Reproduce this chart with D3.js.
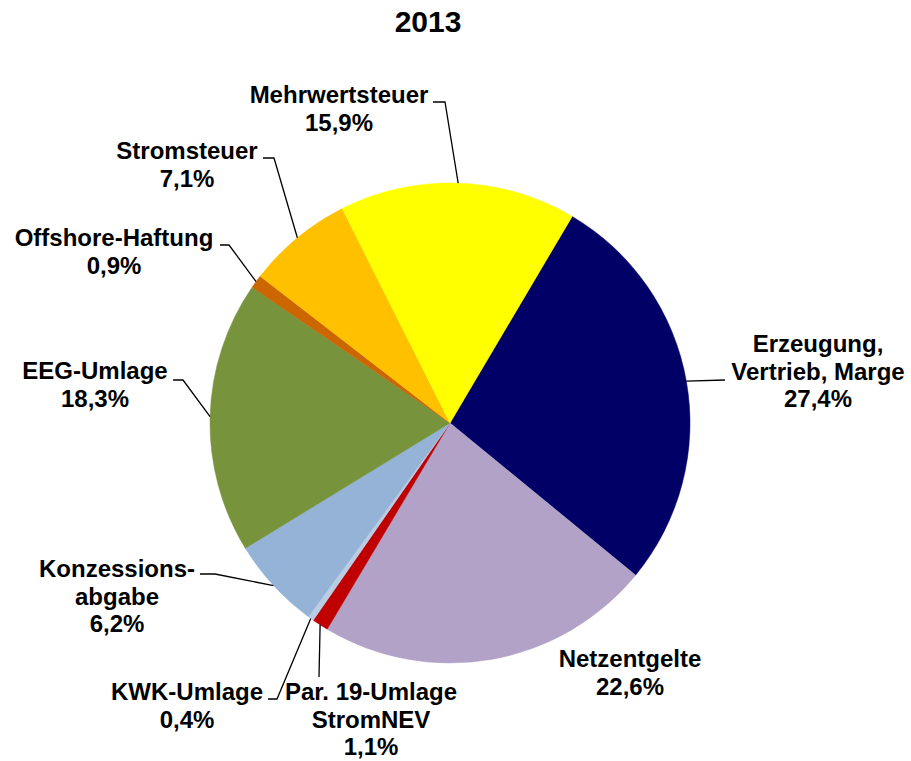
<!DOCTYPE html>
<html>
<head>
<meta charset="utf-8">
<script src="https://cdn.jsdelivr.net/npm/d3@7"></script>
<style>
  body { margin: 0; background: #fff; }
  text { font-family: "Liberation Sans", Arial, sans-serif; font-weight: bold; fill: #000; }
</style>
</head>
<body>
<svg width="911" height="761"></svg>
<script>
// data, clockwise starting at "Erzeugung"
var categories = ["Erzeugung, Vertrieb, Marge", "Netzentgelte", "Par. 19-Umlage StromNEV",
                  "KWK-Umlage", "Konzessionsabgabe", "EEG-Umlage", "Offshore-Haftung",
                  "Stromsteuer", "Mehrwertsteuer"];
var shares = [27.4, 22.6, 1.1, 0.4, 6.2, 18.3, 0.9, 7.1, 15.9];
var labelLines = [["Erzeugung,", "Vertrieb, Marge"], ["Netzentgelte"], ["Par. 19-Umlage", "StromNEV"],
                  ["KWK-Umlage"], ["Konzessions-", "abgabe"], ["EEG-Umlage"], ["Offshore-Haftung"],
                  ["Stromsteuer"], ["Mehrwertsteuer"]];
var colors = ["#000066", "#B3A2C7", "#C00000", "#B9CDE5", "#95B3D7", "#77933C", "#CC6600", "#FFC000", "#FFFF00"];
var title = "2013";

// label layout (text block position + where the leader leaves the text)
var labelPos = [
  { x: 818, y: 352, lead: [[725, 380]] },
  { x: 630, y: 667, lead: null },
  { x: 371, y: 700, lead: [[319, 677]] },
  { x: 187, y: 700, lead: [[268, 699], [277, 699]] },
  { x: 117, y: 577, lead: [[200, 574], [215, 574]] },
  { x: 95,  y: 379, lead: [[173, 380], [183, 380]] },
  { x: 114, y: 246, lead: [[220, 245], [229, 245]] },
  { x: 187, y: 159, lead: [[263, 158], [274, 158]] },
  { x: 339, y: 103, lead: [[433, 102], [445, 102]] }
];

var svg = d3.select("svg"),
    cx = 450, cy = 423, radius = 240,
    lineH = 27.5,
    fmt = function(v) { return d3.format(".1f")(v).replace(".", ",") + "%"; };

svg.append("text")
    .attr("x", 428).attr("y", 32)
    .attr("text-anchor", "middle")
    .style("font-size", "30px")
    .text(title);

var startDeg = 30.6;
var pie = d3.pie().sort(null)
    .startAngle(startDeg * Math.PI / 180)
    .endAngle((startDeg + 360) * Math.PI / 180);

var arc = d3.arc().innerRadius(0).outerRadius(radius);

var arcs = pie(shares);

var g = svg.append("g").attr("transform", "translate(" + cx + "," + cy + ")");

g.selectAll("path.slice")
  .data(arcs)
  .enter().append("path")
    .attr("class", "slice")
    .attr("d", arc)
    .attr("fill", function(d, i) { return colors[i]; })
    .attr("stroke", function(d, i) { return colors[i]; })
    .attr("stroke-width", 0.5);

// leader lines
arcs.forEach(function(d, i) {
  var p = labelPos[i];
  if (!p.lead) return;
  var mid = (d.startAngle + d.endAngle) / 2;
  var end = [cx + radius * Math.sin(mid), cy - radius * Math.cos(mid)];
  var pts = p.lead.concat([end]);
  svg.append("polyline")
      .attr("points", pts.map(function(q) { return q.join(","); }).join(" "))
      .attr("fill", "none")
      .attr("stroke", "#000")
      .attr("stroke-width", 1.3);
});

// labels
arcs.forEach(function(d, i) {
  var p = labelPos[i];
  var lines = labelLines[i].concat([fmt(shares[i])]);
  var t = svg.append("text")
      .attr("text-anchor", "middle")
      .style("font-size", "24px");
  lines.forEach(function(l, k) {
    t.append("tspan")
        .attr("x", p.x)
        .attr("y", p.y + k * lineH)
        .text(l);
  });
});
</script>
</body>
</html>
